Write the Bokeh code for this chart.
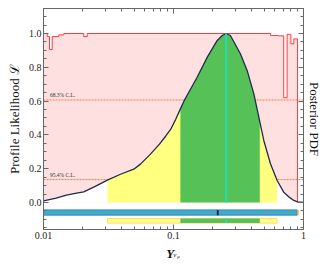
from bokeh.plotting import figure
from bokeh.layouts import column
from bokeh.models import (LogAxis, LinearAxis, FixedTicker, SingleIntervalTicker,
                          Range1d, Label, PrintfTickFormatter)
from bokeh.core.properties import value
from bokeh.embed import file_html
from bokeh.resources import INLINE
import numpy as np

# ---- data ----
pdf_x = [0.0100, 0.0125, 0.0150, 0.0180, 0.0204, 0.0250, 0.0310, 0.0391, 0.0495,
         0.0557, 0.0665, 0.0780, 0.0870, 0.0950, 0.1040, 0.1130, 0.1200, 0.1270,
         0.1520, 0.1820, 0.2170, 0.2370, 0.2540, 0.2740, 0.3270, 0.3690, 0.4150,
         0.4610, 0.4950, 0.5570, 0.6270, 0.7050, 0.7800, 0.8420, 0.9000, 1.0000]
pdf_y = [0.010, 0.026, 0.043, 0.055, 0.063, 0.095, 0.132, 0.167, 0.197,
         0.227, 0.286, 0.345, 0.392, 0.432, 0.492, 0.554, 0.598, 0.633,
         0.741, 0.860, 0.959, 0.988, 1.000, 0.988, 0.880, 0.780, 0.643,
         0.478, 0.367, 0.229, 0.130, 0.061, 0.030, 0.012, 0.003, 0.000]

lik_x = [0.0100, 0.01068, 0.01112, 0.01166, 0.01312, 0.01433, 0.0204, 0.0217,
         0.557, 0.643, 0.705, 0.748, 0.800, 0.843, 0.900, 1.0]
lik_y = [1.000, 0.982, 0.905, 0.982, 0.992, 1.000, 0.982, 1.000,
         0.988, 0.986, 0.620, 0.995, 0.939, 0.968, 0.000, 0.000]

cl_levels = [0.6065, 0.1353]
cl_labels = ["68.3% C.L.", "95.4% C.L."]

mode_x = 0.254
mean_x = 0.219
ci95 = (0.031, 0.627)
ci68 = (0.113, 0.461)
lik_range = (0.0100, 0.895)
lik_tip = (0.895, 0.918)

x_lo, x_hi = 0.01, 1.0
y_lo, y_hi = -0.16, 1.148

xlabel_parts = ["Y", "\u03bd", "\u03bc"]

serif = "Liberation Serif"
W = 328

# ---- main figure ----
p = figure(width=W, height=245, x_axis_type="log",
           x_range=Range1d(x_lo, x_hi), y_range=Range1d(y_lo, y_hi),
           output_backend="svg", toolbar_location=None,
           min_border_left=43, min_border_right=25, min_border_top=8,
           min_border_bottom=16)
p.xgrid.visible = False
p.ygrid.visible = False
p.outline_line_color = "#666666"
p.background_fill_color = "white"

# profile likelihood
p.varea_step(x=lik_x, y1=[0] * len(lik_x), y2=lik_y, step_mode="after",
             fill_color="#ffe0e1")
# confidence level lines
for lvl in cl_levels:
    p.line(x=[x_lo, x_hi], y=[lvl, lvl], line_color="#ff7a45",
           line_dash="2 1", line_width=1)
p.step(x=lik_x, y=lik_y, mode="after", line_color="#ff3b3b", line_width=1)

# posterior pdf
px = np.array(pdf_x)
py = np.array(pdf_y)
p.varea(x=px, y1=0, y2=py, fill_color="white")
m95 = (px >= ci95[0]) & (px <= ci95[1])
p.varea(x=px[m95], y1=0, y2=py[m95], fill_color="#ffff80")
m68 = (px >= ci68[0]) & (px <= ci68[1])
p.varea(x=px[m68], y1=0, y2=py[m68], fill_color="#56c156")
p.line(x=px, y=py, line_color="#1f2b4d", line_width=1.3)
p.segment(x0=[mode_x], y0=[0], x1=[mode_x], y1=[max(pdf_y)],
          line_color="#22dcb4", line_width=2)

# bars below
p.quad(left=[lik_range[0]], right=[lik_range[1]], bottom=[-0.075], top=[-0.044],
       fill_color="#45a8c6", line_color="#2a8fc8", line_width=1)
p.quad(left=[lik_tip[0]], right=[lik_tip[1]], bottom=[-0.075], top=[-0.044],
       fill_color="#ffa530", line_color=None)
p.segment(x0=[mean_x], y0=[-0.075], x1=[mean_x], y1=[-0.044],
          line_color="#1f2b4d", line_width=2)
p.quad(left=[ci95[0]], right=[ci95[1]], bottom=[-0.122], top=[-0.095],
       fill_color="#ffff80", line_color="#ffd878", line_width=1)
p.quad(left=[ci68[0]], right=[ci68[1]], bottom=[-0.122], top=[-0.095],
       fill_color="#56c156", line_color=None)
p.segment(x0=[mode_x], y0=[-0.122], x1=[mode_x], y1=[-0.095],
          line_color="#22dcb4", line_width=2)

# C.L. labels
for lvl, txt in zip(cl_levels, cl_labels):
    p.add_layout(Label(x=0.0112, y=lvl + 0.012, text=txt, text_font=serif,
                       text_font_size="5.5px", text_color="#333333",
                       text_baseline="bottom"))

# ---- axes ----
xmajor = [0.01, 0.1, 1.0]
xminor = [0.02, 0.03, 0.04, 0.05, 0.06, 0.07, 0.08, 0.09,
          0.2, 0.3, 0.4, 0.5, 0.6, 0.7, 0.8, 0.9]
xtick_labels = {0.01: "0.01", 0.1: "0.1", 1.0: "1"}


def style(ax, labels=True):
    ax.axis_line_color = "#666666"
    ax.major_tick_line_color = "#666666"
    ax.minor_tick_line_color = "#666666"
    ax.major_tick_in = 5
    ax.major_tick_out = 0
    ax.minor_tick_in = 3
    ax.minor_tick_out = 0
    ax.major_label_text_font = serif
    ax.major_label_text_color = "#222222"
    ax.axis_label_text_font = serif
    ax.axis_label_text_font_style = "normal"
    ax.axis_label_text_font_size = "13px"
    ax.axis_label_text_color = "#111111"
    if labels:
        ax.major_label_text_font_size = "10px"
        ax.major_label_standoff = 2
    else:
        ax.major_label_text_font_size = "1px"
        ax.major_label_text_alpha = 0
        ax.major_label_standoff = 0


xb = p.xaxis[0]
xb.ticker = FixedTicker(ticks=xmajor, minor_ticks=xminor)
xb.major_label_overrides = xtick_labels
style(xb)

yl = p.yaxis[0]
yl.ticker = SingleIntervalTicker(interval=0.2, num_minor_ticks=4)
yl.formatter = PrintfTickFormatter(format="%.1f")
yl.axis_label = "Profile Likelihood \u2112"
yl.axis_label_standoff = 4
style(yl)

xt = LogAxis(ticker=FixedTicker(ticks=xmajor, minor_ticks=xminor))
style(xt, labels=False)
p.add_layout(xt, "above")

yr = LinearAxis(ticker=SingleIntervalTicker(interval=0.2, num_minor_ticks=4),
                axis_label="Posterior PDF")
style(yr, labels=False)
yr.axis_label_standoff = 3
p.add_layout(yr, "right")

# ---- x-axis label strip: Y_{nu_mu}, sharing the main x scale ----
H2 = 17
q = figure(width=W, height=H2, title=None, x_axis_type="log",
           x_range=p.x_range, y_range=Range1d(0, H2),
           x_axis_location=None, y_axis_location=None,
           output_backend="svg", toolbar_location=None,
           min_border_left=43, min_border_right=25, min_border_top=0,
           min_border_bottom=0)
q.xgrid.visible = False
q.ygrid.visible = False
q.outline_line_color = None
q.text(x=[0.0879], y=[9.5], text=[xlabel_parts[0]], text_font=value(serif),
       text_font_style="bold italic", text_font_size="13px",
       text_color="#111111", text_baseline="alphabetic")
q.text(x=[0.0995], y=[8.0], text=[xlabel_parts[1]], text_font=value(serif),
       text_font_style="italic", text_font_size="7px",
       text_color="#111111", text_baseline="alphabetic")
q.text(x=[0.1068], y=[6.3], text=[xlabel_parts[2]], text_font=value(serif),
       text_font_style="italic", text_font_size="5px",
       text_color="#111111", text_baseline="alphabetic")

layout = column(p, q, spacing=0)
open("out.html", "w").write(file_html(layout, INLINE))
